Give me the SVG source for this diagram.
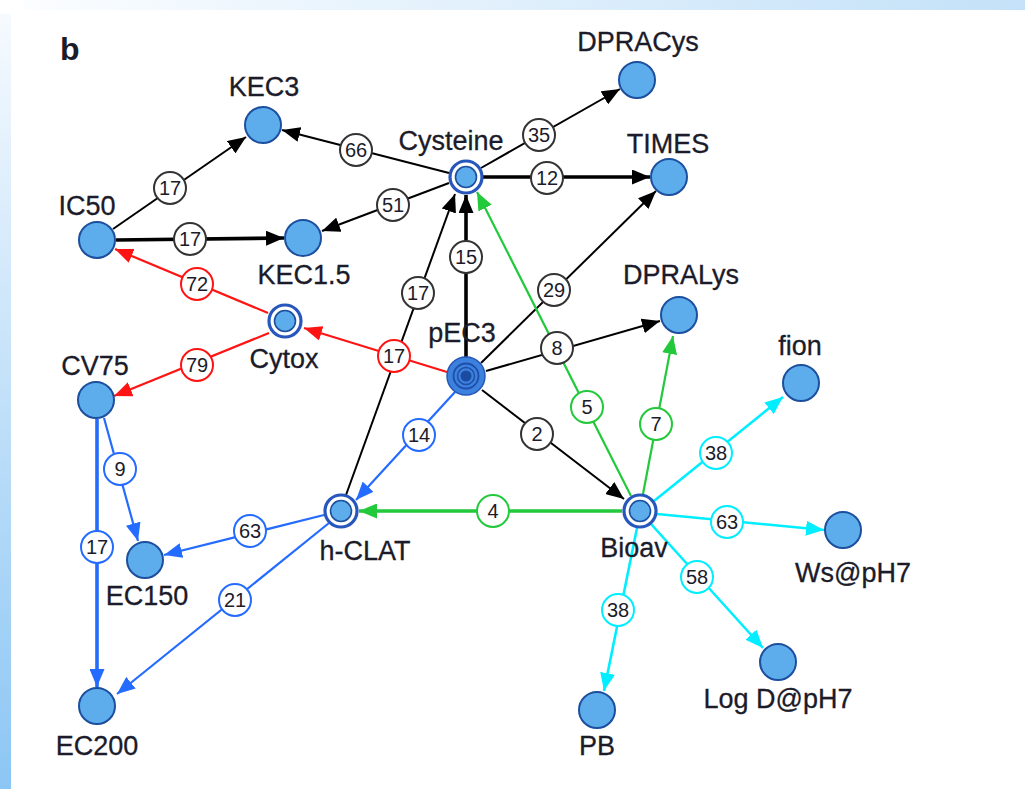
<svg xmlns="http://www.w3.org/2000/svg" width="1025" height="789" viewBox="0 0 1025 789">
  <defs>
    <linearGradient id="topBand" x1="0" y1="0" x2="1" y2="0">
      <stop offset="0" stop-color="#fbfdff"/>
      <stop offset="1" stop-color="#c3e1f8"/>
    </linearGradient>
    <linearGradient id="leftBand" x1="0" y1="0" x2="0" y2="1">
      <stop offset="0" stop-color="#f6fafe"/>
      <stop offset="1" stop-color="#8cc6f4"/>
    </linearGradient>
    <marker id="ah-black" markerUnits="userSpaceOnUse" viewBox="0 0 18 15" markerWidth="18" markerHeight="15" refX="18" refY="7.5" orient="auto"><path d="M0,0 L18,7.5 L0,15 z" fill="#000"/></marker>
    <marker id="ah-red" markerUnits="userSpaceOnUse" viewBox="0 0 18 15" markerWidth="18" markerHeight="15" refX="18" refY="7.5" orient="auto"><path d="M0,0 L18,7.5 L0,15 z" fill="#ff1414"/></marker>
    <marker id="ah-blue" markerUnits="userSpaceOnUse" viewBox="0 0 18 15" markerWidth="18" markerHeight="15" refX="18" refY="7.5" orient="auto"><path d="M0,0 L18,7.5 L0,15 z" fill="#246bff"/></marker>
    <marker id="ah-green" markerUnits="userSpaceOnUse" viewBox="0 0 18 15" markerWidth="18" markerHeight="15" refX="18" refY="7.5" orient="auto"><path d="M0,0 L18,7.5 L0,15 z" fill="#22c93a"/></marker>
    <marker id="ah-cyan" markerUnits="userSpaceOnUse" viewBox="0 0 18 15" markerWidth="18" markerHeight="15" refX="18" refY="7.5" orient="auto"><path d="M0,0 L18,7.5 L0,15 z" fill="#00eeff"/></marker>
  </defs>
  <style>
    text { font-family: "Liberation Sans", Arial, sans-serif; fill: #1b1b2a; }
    .name { font-size: 27px; text-anchor: middle; stroke: #1b1b2a; stroke-width: 0.3; }
    .num { font-size: 20px; text-anchor: middle; dominant-baseline: central; }
    .node { fill: #5dadec; stroke: #1c4f9e; stroke-width: 2; }
    .ring { fill: #fff; stroke: #2757bc; stroke-width: 3.2; }
    .core { fill: #5dadec; stroke: #1c4f9e; stroke-width: 1.6; }
    line { fill: none; }
    .k { stroke: #000; stroke-width: 2; marker-end: url(#ah-black); }
    .r { stroke: #ff1414; stroke-width: 2.2; marker-end: url(#ah-red); }
    .b { stroke: #246bff; stroke-width: 2.2; marker-end: url(#ah-blue); }
    .g { stroke: #22c93a; stroke-width: 2.2; marker-end: url(#ah-green); }
    .c { stroke: #00eeff; stroke-width: 2.6; marker-end: url(#ah-cyan); }
    .thick { stroke-width: 3.6; }
    .lbl { fill: #fff; stroke-width: 2; }
    .lk { stroke: #333; }
    .lr { stroke: #ff1414; }
    .lb { stroke: #246bff; }
    .lg { stroke: #22c93a; }
    .lc { stroke: #00eeff; }
  </style>

  <!-- page background -->
  <rect x="0" y="0" width="1025" height="789" fill="#fff"/>
  <rect x="24" y="0" width="1001" height="10" fill="url(#topBand)"/>
  <rect x="0" y="14" width="11" height="775" fill="url(#leftBand)"/>

  <text x="60" y="60" style="font-size:32px;font-weight:bold;">b</text>

  <g id="connectors">
    <!-- black -->
    <line class="k" x1="113" y1="229" x2="246" y2="137"/>
    <line class="k thick" x1="116" y1="240" x2="284" y2="238"/>
    <line class="k" x1="449" y1="173" x2="282" y2="130"/>
    <line class="k" x1="449" y1="183" x2="322" y2="231"/>
    <line class="k" x1="481" y1="168" x2="620" y2="89"/>
    <line class="k thick" x1="483" y1="177" x2="650" y2="177"/>
    <line class="k thick" x1="466" y1="357" x2="466" y2="195"/>
    <line class="k" x1="346" y1="495" x2="455" y2="194"/>
    <line class="k" x1="481" y1="363" x2="656" y2="191"/>
    <line class="k" x1="486" y1="371" x2="660" y2="321"/>
    <line class="k" x1="482" y1="390" x2="624" y2="499"/>
    <!-- red -->
    <line class="r" x1="268" y1="313" x2="115" y2="249"/>
    <line class="r" x1="269" y1="333" x2="114" y2="396"/>
    <line class="r" x1="447" y1="372" x2="304" y2="328"/>
    <!-- blue -->
    <line class="b" x1="455" y1="392" x2="356" y2="500"/>
    <line class="b" x1="324" y1="515" x2="164" y2="555"/>
    <line class="b" x1="329" y1="523" x2="117" y2="694"/>
    <line class="b" x1="104" y1="418" x2="138" y2="541"/>
    <line class="b thick" x1="97" y1="419" x2="97" y2="687"/>
    <!-- green -->
    <line class="g" x1="631" y1="496" x2="477" y2="192"/>
    <line class="g" x1="643" y1="494" x2="673" y2="336"/>
    <line class="g thick" x1="622" y1="511" x2="359" y2="511"/>
    <!-- cyan -->
    <line class="c" x1="654" y1="501" x2="783" y2="397"/>
    <line class="c" x1="657" y1="514" x2="824" y2="530"/>
    <line class="c" x1="651" y1="524" x2="763" y2="648"/>
    <line class="c" x1="637" y1="528" x2="604" y2="691"/>

    <!-- edge weights -->
    <g>
      <circle class="lbl lk" cx="170" cy="188" r="16"/><text class="num" x="170" y="188">17</text>
      <circle class="lbl lk" cx="190" cy="239" r="16"/><text class="num" x="190" y="239">17</text>
      <circle class="lbl lk" cx="356" cy="150" r="16"/><text class="num" x="356" y="150">66</text>
      <circle class="lbl lk" cx="393" cy="205" r="16"/><text class="num" x="393" y="205">51</text>
      <circle class="lbl lk" cx="539" cy="135" r="16"/><text class="num" x="539" y="135">35</text>
      <circle class="lbl lk" cx="547" cy="178" r="16"/><text class="num" x="547" y="178">12</text>
      <circle class="lbl lk" cx="466" cy="257" r="16"/><text class="num" x="466" y="257">15</text>
      <circle class="lbl lk" cx="418" cy="293" r="16"/><text class="num" x="418" y="293">17</text>
      <circle class="lbl lk" cx="554" cy="290" r="16"/><text class="num" x="554" y="290">29</text>
      <circle class="lbl lk" cx="557" cy="348" r="16"/><text class="num" x="557" y="348">8</text>
      <circle class="lbl lk" cx="537" cy="434" r="16"/><text class="num" x="537" y="434">2</text>

      <circle class="lbl lr" cx="197" cy="284" r="16"/><text class="num" x="197" y="284">72</text>
      <circle class="lbl lr" cx="197" cy="365" r="16"/><text class="num" x="197" y="365">79</text>
      <circle class="lbl lr" cx="394" cy="356" r="16"/><text class="num" x="394" y="356">17</text>

      <circle class="lbl lb" cx="419" cy="435" r="16"/><text class="num" x="419" y="435">14</text>
      <circle class="lbl lb" cx="250" cy="531" r="16"/><text class="num" x="250" y="531">63</text>
      <circle class="lbl lb" cx="235" cy="600" r="16"/><text class="num" x="235" y="600">21</text>
      <circle class="lbl lb" cx="120" cy="469" r="16"/><text class="num" x="120" y="469">9</text>
      <circle class="lbl lb" cx="97" cy="547" r="16"/><text class="num" x="97" y="547">17</text>

      <circle class="lbl lg" cx="587" cy="407" r="16"/><text class="num" x="587" y="407">5</text>
      <circle class="lbl lg" cx="656" cy="424" r="16"/><text class="num" x="656" y="424">7</text>
      <circle class="lbl lg" cx="493" cy="511" r="16"/><text class="num" x="493" y="511">4</text>

      <circle class="lbl lc" cx="716" cy="453" r="16"/><text class="num" x="716" y="453">38</text>
      <circle class="lbl lc" cx="727" cy="522" r="16"/><text class="num" x="727" y="522">63</text>
      <circle class="lbl lc" cx="697" cy="577" r="16"/><text class="num" x="697" y="577">58</text>
      <circle class="lbl lc" cx="618" cy="610" r="16"/><text class="num" x="618" y="610">38</text>
    </g>
  </g>

  <g id="node-DPRACys"><circle class="node" cx="637" cy="80" r="18"/><text class="name" x="638" y="51">DPRACys</text></g>
  <g id="node-KEC3"><circle class="node" cx="263" cy="125" r="18"/><text class="name" x="264" y="96">KEC3</text></g>
  <g id="node-Cysteine"><circle class="ring" cx="466" cy="177" r="16"/><circle class="core" cx="466" cy="177" r="10.5"/><text class="name" x="451" y="150">Cysteine</text></g>
  <g id="node-TIMES"><circle class="node" cx="669" cy="177" r="18"/><text class="name" x="668" y="153">TIMES</text></g>
  <g id="node-IC50"><circle class="node" cx="97" cy="240" r="18"/><text class="name" x="87" y="215">IC50</text></g>
  <g id="node-KEC1.5"><circle class="node" cx="303" cy="238" r="18"/><text class="name" x="304" y="284">KEC1.5</text></g>
  <g id="node-DPRALys"><circle class="node" cx="679" cy="315" r="18"/><text class="name" x="681" y="284">DPRALys</text></g>
  <g id="node-Cytox"><circle class="ring" cx="285" cy="321" r="16"/><circle class="core" cx="285" cy="321" r="10.5"/><text class="name" x="284" y="368">Cytox</text></g>
  <g id="node-pEC3">
    <circle cx="466" cy="376" r="19" fill="#3e80de" stroke="#2358b8" stroke-width="1.5"/>
    <circle cx="466" cy="376" r="12.5" fill="none" stroke="#1d4fa8" stroke-width="1.8"/>
    <circle cx="466" cy="376" r="8.5" fill="none" stroke="#1d4fa8" stroke-width="1.5"/>
    <circle cx="466" cy="376" r="5.5" fill="#1a4ba0"/>
    <text class="name" x="462" y="342">pEC3</text>
  </g>
  <g id="node-CV75"><circle class="node" cx="96" cy="400" r="18"/><text class="name" x="95" y="375">CV75</text></g>
  <g id="node-fion"><circle class="node" cx="801" cy="383" r="18"/><text class="name" x="800" y="355">fion</text></g>
  <g id="node-h-CLAT"><circle class="ring" cx="341" cy="511" r="16"/><circle class="core" cx="341" cy="511" r="10.5"/><text class="name" x="365" y="560">h-CLAT</text></g>
  <g id="node-Bioav"><circle class="ring" cx="640" cy="511" r="16"/><circle class="core" cx="640" cy="511" r="10.5"/><text class="name" x="634" y="557">Bioav</text></g>
  <g id="node-EC150"><circle class="node" cx="145" cy="560" r="18"/><text class="name" x="147" y="605">EC150</text></g>
  <g id="node-Ws-pH7"><circle class="node" cx="843" cy="530" r="18"/><text class="name" x="853" y="582">Ws@pH7</text></g>
  <g id="node-LogD-pH7"><circle class="node" cx="778" cy="662" r="18"/><text class="name" x="778" y="708">Log D@pH7</text></g>
  <g id="node-PB"><circle class="node" cx="597" cy="710" r="18"/><text class="name" x="597" y="755">PB</text></g>
  <g id="node-EC200"><circle class="node" cx="97" cy="706" r="18"/><text class="name" x="97" y="755">EC200</text></g>
</svg>
